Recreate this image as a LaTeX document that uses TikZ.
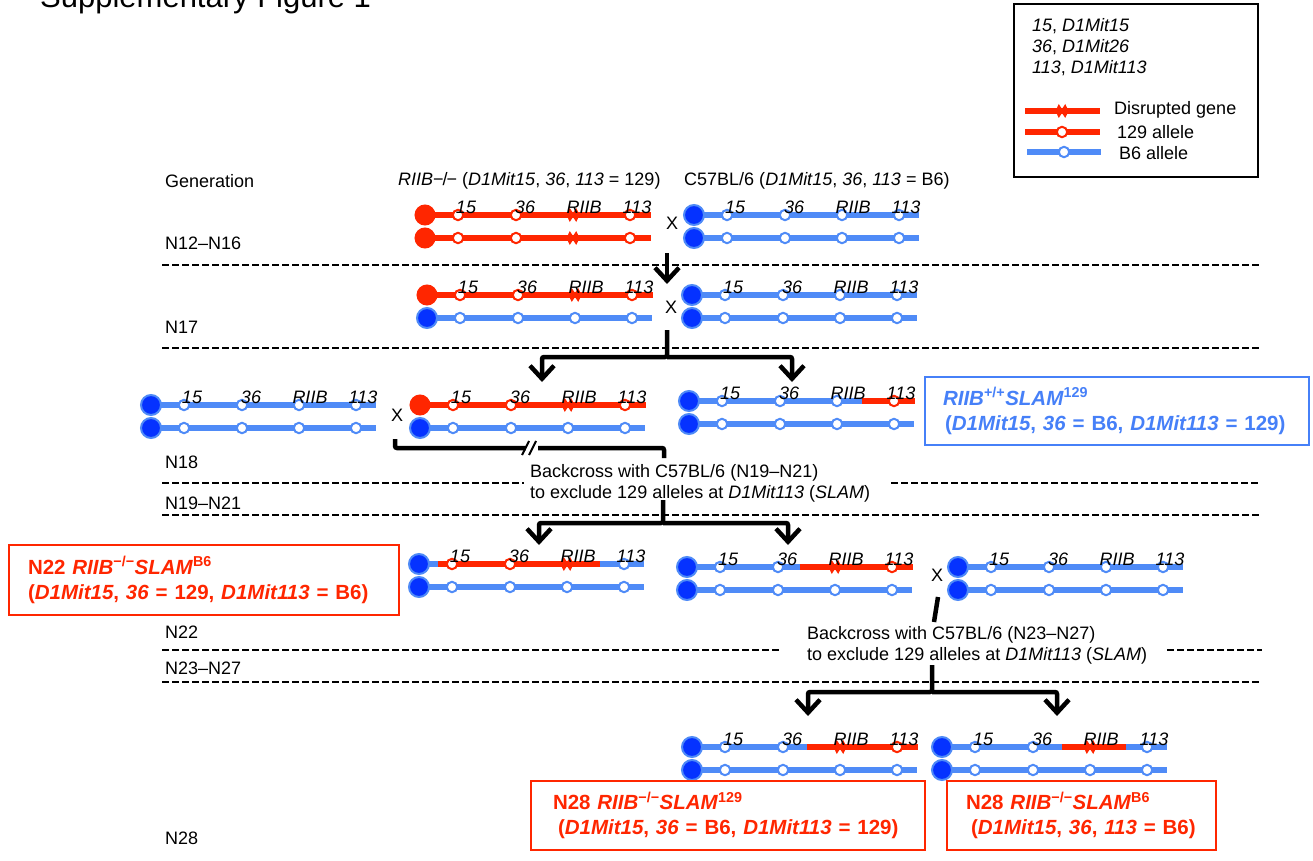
\documentclass[tikz,border=0pt]{standalone}
\usepackage{fontspec}
\setmainfont{Liberation Sans}
\usetikzlibrary{arrows.meta}

\definecolor{chromred}{RGB}{255,38,0}
\definecolor{chromblue}{RGB}{79,139,247}
\definecolor{cenblue}{RGB}{5,50,255}
\definecolor{boxblue}{RGB}{70,128,248}

\tikzset{
  txt/.style={font=\fontsize{18}{21}\selectfont, inner sep=0pt},
  gen/.style={txt, anchor=west},
  mlabel/.style={font=\fontsize{18}{21}\selectfont\itshape, inner sep=0pt, anchor=base},
  bline/.style={draw=chromblue, line width=5.5pt},
  rline/.style={draw=chromred, line width=5.5pt},
  bmark/.style={draw=chromblue, fill=white, line width=2pt},
  rmark/.style={draw=chromred, fill=white, line width=2pt},
  bcen/.style={draw=chromblue, fill=cenblue, line width=2pt},
  rcen/.style={draw=chromred, fill=chromred, line width=1pt},
  conn/.style={draw=black, line width=4.5pt, rounded corners=2pt},
  chev/.tip={Straight Barb[length=13pt, width=24pt]},
  gensep/.style={draw=black, line width=1.8pt, dash pattern=on 6.5pt off 3.5pt},
  redbox/.style={draw=chromred, line width=2pt, text=chromred, anchor=north west,
    font=\fontsize{20.5}{25}\selectfont\bfseries, align=left, inner ysep=0pt},
  bluebox/.style={redbox, draw=boxblue, text=boxblue}
}

% knocked-out gene mark
\newcommand{\knock}[2]{%
  \fill[chromred] (#1,#2) ++(-6.5,0) -- ++(3.25,-7) -- ++(3.25,5) -- ++(3.25,-5)
    -- ++(3.25,7) -- ++(-3.25,7) -- ++(-3.25,-5) -- ++(-3.25,5) -- cycle;}

% one chromosome: x, y, centromere style, 129 segment from, to
\newcommand{\chrom}[5]{%
  \draw[bline] (#1,#2) -- ++(225,0);
  \ifdim#5pt>#4pt \draw[rline] (#1+#4,#2) -- (#1+#5,#2); \fi
  \foreach \m in {33,91,148,205}{
    \pgfmathtruncatemacro\inred{(\m>#4)&&(\m<#5)}
    \ifnum\inred=1
      \ifnum\m=148\relax \knock{#1+\m}{#2}
      \else \draw[rmark] (#1+\m,#2) circle[radius=5.2pt]; \fi
    \else \draw[bmark] (#1+\m,#2) circle[radius=5.2pt]; \fi
  }
  \filldraw[#3] (#1,#2) circle[radius=10pt];}

% pair: name, x, y, top centromere, top 129 from, to, bottom (r/b)
\newcommand{\chrompair}[7]{%
  \chrom{#2}{#3}{#4}{#5}{#6}
  \if r#7 \chrom{#2}{#3+23}{rcen}{0}{226}\else \chrom{#2}{#3+23}{bcen}{0}{0}\fi
  \node[mlabel] (#1-15) at (#2+41,#3-2) {15};
  \node[mlabel] (#1-36) at (#2+100,#3-2) {36};
  \node[mlabel] (#1-riib) at (#2+159,#3-2) {RIIB};
  \node[mlabel] (#1-113) at (#2+212,#3-2) {113};}

\begin{document}
\begin{tikzpicture}[x=1pt, y=-1pt]
\useasboundingbox (0,0) rectangle (1313,861);

\node[anchor=base west, inner sep=0pt, font=\fontsize{31}{36}\selectfont] (title) at (40,8) {Supplementary Figure 1};

% legend
\draw[line width=2pt] (1014,4) rectangle (1258,177);
\node[gen] (lg15) at (1032,26) {\textit{15}, \textit{D1Mit15}};
\node[gen] (lg36) at (1032,47) {\textit{36}, \textit{D1Mit26}};
\node[gen] (lg113) at (1032,68) {\textit{113}, \textit{D1Mit113}};
\draw[rline] (1025,111) -- (1100,111); \knock{1062}{111}
\draw[rline] (1025,132) -- (1100,132); \draw[rmark] (1062,132) circle[radius=5.2pt];
\draw[bline] (1027,152) -- (1101,152); \draw[bmark] (1064,152) circle[radius=5.2pt];
\node[gen] (lgko) at (1114,110) {Disrupted gene};
\node[gen] (lg129) at (1117,132) {129 allele};
\node[gen] (lgb6) at (1119,153) {B6 allele};

% generation rows
\foreach \y in {265,348,515,682} \draw[gensep] (162,\y) -- (1262,\y);
\draw[gensep] (162,483) -- (524,483) (891,483) -- (1258,483);
\draw[gensep] (162,650) -- (781,650) (1167,650) -- (1262,650);
\node[gen] (generation) at (165,181) {Generation};
\node[gen] (n1216) at (165,243) {N12–N16};
\node[gen] (n17) at (165,327) {N17};
\node[gen] (n18) at (165,462) {N18};
\node[gen] (n1921) at (165,503) {N19–N21};
\node[gen] (n22) at (165,632) {N22};
\node[gen] (n2327) at (165,668) {N23–N27};
\node[gen] (n28) at (165,838) {N28};

\node[gen] (hdr129) at (398,181) {\textit{RIIB}−\kern-1pt/\kern-1pt− (\textit{D1Mit15}, \textit{36}, \textit{113} = 129)};
\node[gen] (hdrb6) at (684,181) {C57BL/6 (\textit{D1Mit15}, \textit{36}, \textit{113} = B6)};

% chromosomes
\chrompair{p1}{425}{215}{rcen}{0}{226}{r}
\chrompair{p2}{694}{215}{bcen}{0}{0}{b}
\chrompair{p3}{427}{295}{rcen}{0}{226}{b}
\chrompair{p4}{692}{295}{bcen}{0}{0}{b}
\chrompair{p5}{151}{405}{bcen}{0}{0}{b}
\chrompair{p6}{420}{405}{rcen}{0}{226}{b}
\chrompair{p7}{689}{401}{bcen}{173}{226}{b}
\chrompair{p8}{419}{564}{bcen}{19}{181}{b}
\chrompair{p9}{687}{567}{bcen}{113}{226}{b}
\chrompair{p10}{958}{567}{bcen}{0}{0}{b}
\chrompair{p11}{692}{747}{bcen}{115}{226}{b}
\chrompair{p12}{942}{747}{bcen}{120}{184}{b}

% crosses
\node[txt] (cross1) at (672,223) {X};
\node[txt] (cross2) at (671,307) {X};
\node[txt] (cross3) at (397,415) {X};
\node[txt] (cross4) at (937,575) {X};

% connectors
\coordinate (j1) at (667,253);
\coordinate (in17) at (667,284);
\draw[conn,-chev] (j1) -- (in17);

\coordinate (j2) at (667,330);
\coordinate (h2) at (667,357);
\coordinate (in18l) at (542,382);
\coordinate (in18r) at (792,382);
\draw[conn,-chev] (j2) -- (h2) -| (in18l);
\draw[conn,-chev] (h2) -| (in18r);

\coordinate (b1) at (395,439);
\coordinate (b2) at (664,458);
\draw[conn] (b1) -- ++(0,9) -| (b2);
\fill[white] (526,443) rectangle (538,453);
\draw[line width=2pt] (522,455) -- (529,441) (529,455) -- (536,441);

\coordinate (j3) at (663,500);
\coordinate (h3) at (663,523);
\coordinate (in22l) at (539,545);
\coordinate (in22r) at (788,545);
\draw[conn,-chev] (j3) -- (h3) -| (in22l);
\draw[conn,-chev] (h3) -| (in22r);

\coordinate (s4a) at (938,597);
\coordinate (s4b) at (934,622);
\draw[conn] (s4a) -- (s4b);
\coordinate (j4) at (932,665);
\coordinate (h4) at (932,692);
\coordinate (in28l) at (808,716);
\coordinate (in28r) at (1057,716);
\draw[conn,-chev] (j4) -- (h4) -| (in28l);
\draw[conn,-chev] (h4) -| (in28r);

% backcross notes
\node[gen, align=left, font=\fontsize{18}{21}\selectfont] (bc1921) at (530,483)
  {Backcross with C57BL/6 (N19–N21)\\to exclude 129 alleles at \textit{D1Mit113} (\textit{SLAM})};
\node[gen, align=left, font=\fontsize{18}{21}\selectfont] (bc2327) at (807,645)
  {Backcross with C57BL/6 (N23–N27)\\to exclude 129 alleles at \textit{D1Mit113} (\textit{SLAM})};

% genotype boxes
\node[bluebox, text width=348pt, inner xsep=18pt, minimum height=68pt] (slam129) at (924,376)
  {\textit{RIIB}\textsuperscript{+/+}\textit{SLAM}\textsuperscript{129}\\\hspace*{2pt}(\textit{D1Mit15}, \textit{36} = B6, \textit{D1Mit113} = 129)};
\node[redbox, text width=352pt, inner xsep=19pt, minimum height=70pt] (n22box) at (8,544)
  {N22 \textit{RIIB}\textsuperscript{−/−}\textit{SLAM}\textsuperscript{B6}\\(\textit{D1Mit15}, \textit{36} = 129, \textit{D1Mit113} = B6)};
\node[redbox, text width=350pt, inner xsep=22pt, minimum height=69pt] (n28a) at (530,780)
  {N28 \textit{RIIB}\textsuperscript{−/−}\textit{SLAM}\textsuperscript{129}\\\hspace*{5pt}(\textit{D1Mit15}, \textit{36} = B6, \textit{D1Mit113} = 129)};
\node[redbox, text width=239pt, inner xsep=15pt, minimum height=69pt] (n28b) at (946,780)
  {\hspace*{4pt}N28 \textit{RIIB}\textsuperscript{−/−}\textit{SLAM}\textsuperscript{B6}\\\hspace*{9pt}(\textit{D1Mit15}, \textit{36}, \textit{113} = B6)};
\end{tikzpicture}
\end{document}
